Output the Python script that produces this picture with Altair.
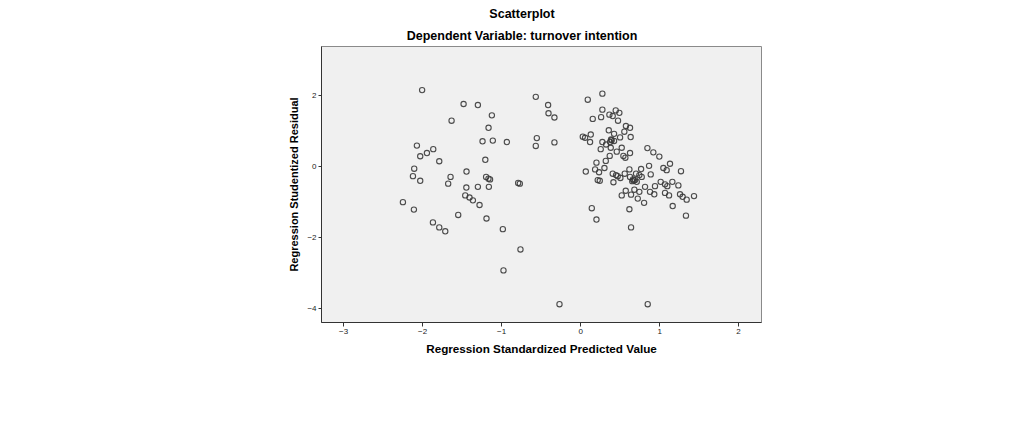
import altair as alt
import pandas as pd

# Regression Standardized Predicted Value
pred = [
    -2.00, -1.475, -1.294, -1.627, -1.117, -1.159, -1.235, -1.105, -0.927, -2.066,
    -1.859, -1.939, -2.024, -1.783, -1.20, -2.10, -2.116, -2.024, -1.64, -1.67,
    -1.438, -1.19, -1.16, -1.14, -1.44, -1.294, -1.155, -1.454, -1.40, -1.357,
    -1.273, -2.243, -2.104, -1.543, -1.185, -1.863, -1.783, -1.707, -0.784, -0.763,
    -0.978, -0.755, -0.97, -0.261,
    -0.561, -0.405, -0.40, -0.325, -0.548, -0.561, -0.325,
    0.097, 0.282, 0.282, 0.16, 0.266, 0.371, 0.413, 0.451, 0.497, 0.48,
    0.58, 0.632, 0.56, 0.363, 0.43, 0.135, 0.034, 0.063, 0.126, 0.392,
    0.43, 0.282, 0.329, 0.506, 0.64, 0.527, 0.261, 0.388, 0.464, 0.632,
    0.375, 0.548, 0.573, 0.325, 0.207, 0.852, 0.927, 1.003, 0.072, 0.19,
    0.24, 0.308, 0.223, 0.249, 0.422, 0.413, 0.455, 0.476, 0.51, 0.565,
    0.624, 0.632, 0.67, 0.696, 0.717, 0.708, 0.75, 0.78, 0.772, 0.873,
    0.894, 1.054, 1.096, 1.138, 1.277, 0.822, 0.948, 1.02, 1.075, 1.104,
    1.168, 1.244, 1.075, 1.126, 1.265, 1.298, 1.349, 1.442, 0.885, 0.939,
    0.687, 0.75, 0.578, 0.645, 0.527, 0.73, 0.81, 0.148, 0.624, 1.172,
    1.34, 0.207, 0.645, 0.856, 0.38, 0.66, 0.68, 0.40,
]

# Regression Studentized Residual
resid = [
    2.14, 1.75, 1.72, 1.28, 1.43, 1.08, 0.70, 0.72, 0.68, 0.58,
    0.48, 0.37, 0.28, 0.14, 0.18, -0.07, -0.28, -0.41, -0.30, -0.49,
    -0.15, -0.30, -0.35, -0.37, -0.60, -0.58, -0.58, -0.82, -0.88, -0.96,
    -1.09, -1.01, -1.22, -1.37, -1.47, -1.58, -1.72, -1.83, -0.47, -0.49,
    -1.77, -2.34, -2.93, -3.88,
    1.95, 1.72, 1.49, 1.37, 0.79, 0.57, 0.67,
    1.87, 2.04, 1.59, 1.33, 1.38, 1.45, 1.41, 1.57, 1.50, 1.28,
    1.13, 1.08, 0.97, 1.01, 0.91, 0.89, 0.83, 0.80, 0.68, 0.75,
    0.71, 0.68, 0.61, 0.81, 0.82, 0.52, 0.48, 0.52, 0.41, 0.37,
    0.29, 0.29, 0.24, 0.15, 0.10, 0.51, 0.39, 0.27, -0.15, -0.09,
    -0.17, -0.05, -0.39, -0.41, -0.45, -0.21, -0.25, -0.28, -0.33, -0.21,
    -0.09, -0.30, -0.37, -0.39, -0.44, -0.21, -0.25, -0.30, -0.08, 0.01,
    -0.23, -0.05, -0.11, 0.07, -0.14, -0.58, -0.56, -0.44, -0.51, -0.56,
    -0.44, -0.54, -0.75, -0.82, -0.79, -0.86, -0.94, -0.84, -0.72, -0.79,
    -0.66, -0.72, -0.69, -0.80, -0.82, -0.91, -1.03, -1.18, -1.21, -1.12,
    -1.39, -1.50, -1.72, -3.88, 0.68, -0.42, -0.40, 0.73,
]

x_ticks = [-3, -2, -1, 0, 1, 2]
y_ticks = [-4, -2, 0, 2]

df = pd.DataFrame({"pred": pred, "resid": resid})

FONT = "Liberation Sans"

chart = (
    alt.Chart(df)
    .mark_point(shape="circle", filled=False, size=28, strokeWidth=1.1,
                color="#3a3a3a", opacity=0.9)
    .encode(
        x=alt.X("pred:Q",
                scale=alt.Scale(domain=[-3.28, 2.29], nice=False, zero=False),
                axis=alt.Axis(values=x_ticks, title="Regression Standardized Predicted Value",
                              grid=False, tickSize=4, tickColor="#333", domainColor="#333",
                              labelFontSize=8, labelFont=FONT, labelColor="#222",
                              labelPadding=1, titleFont=FONT, titleFontSize=11.7,
                              titleFontWeight="bold", titleColor="#000", titlePadding=8)),
        y=alt.Y("resid:Q",
                scale=alt.Scale(domain=[-4.38, 3.38], nice=False, zero=False),
                axis=alt.Axis(values=y_ticks, title="Regression Studentized Residual",
                              grid=False, tickSize=3, tickColor="#333", domainColor="#333",
                              labelFontSize=8, labelFont=FONT, labelColor="#222",
                              labelPadding=2, titleFont=FONT, titleFontSize=11,
                              titleFontWeight="bold", titleColor="#000", titlePadding=7)),
    )
    .properties(
        width=440,
        height=276,
        title=alt.Title(
            "Scatterplot",
            subtitle="Dependent Variable: turnover intention",
            font=FONT, fontSize=12.5, fontWeight="bold", color="#000",
            subtitleFont=FONT, subtitleFontSize=12.5, subtitleFontWeight="bold",
            subtitleColor="#000", subtitlePadding=9, offset=4, dx=-19,
            anchor="middle",
        ),
        autosize=alt.AutoSizeParams(type="none"),
        padding={"left": 313, "top": 38, "right": 260, "bottom": 50},
    )
    .configure_view(fill="#f0f0f0", stroke="#8a8a8a", strokeWidth=1)
)

chart.save("out.html", embed_options={"renderer": "svg", "actions": False})
